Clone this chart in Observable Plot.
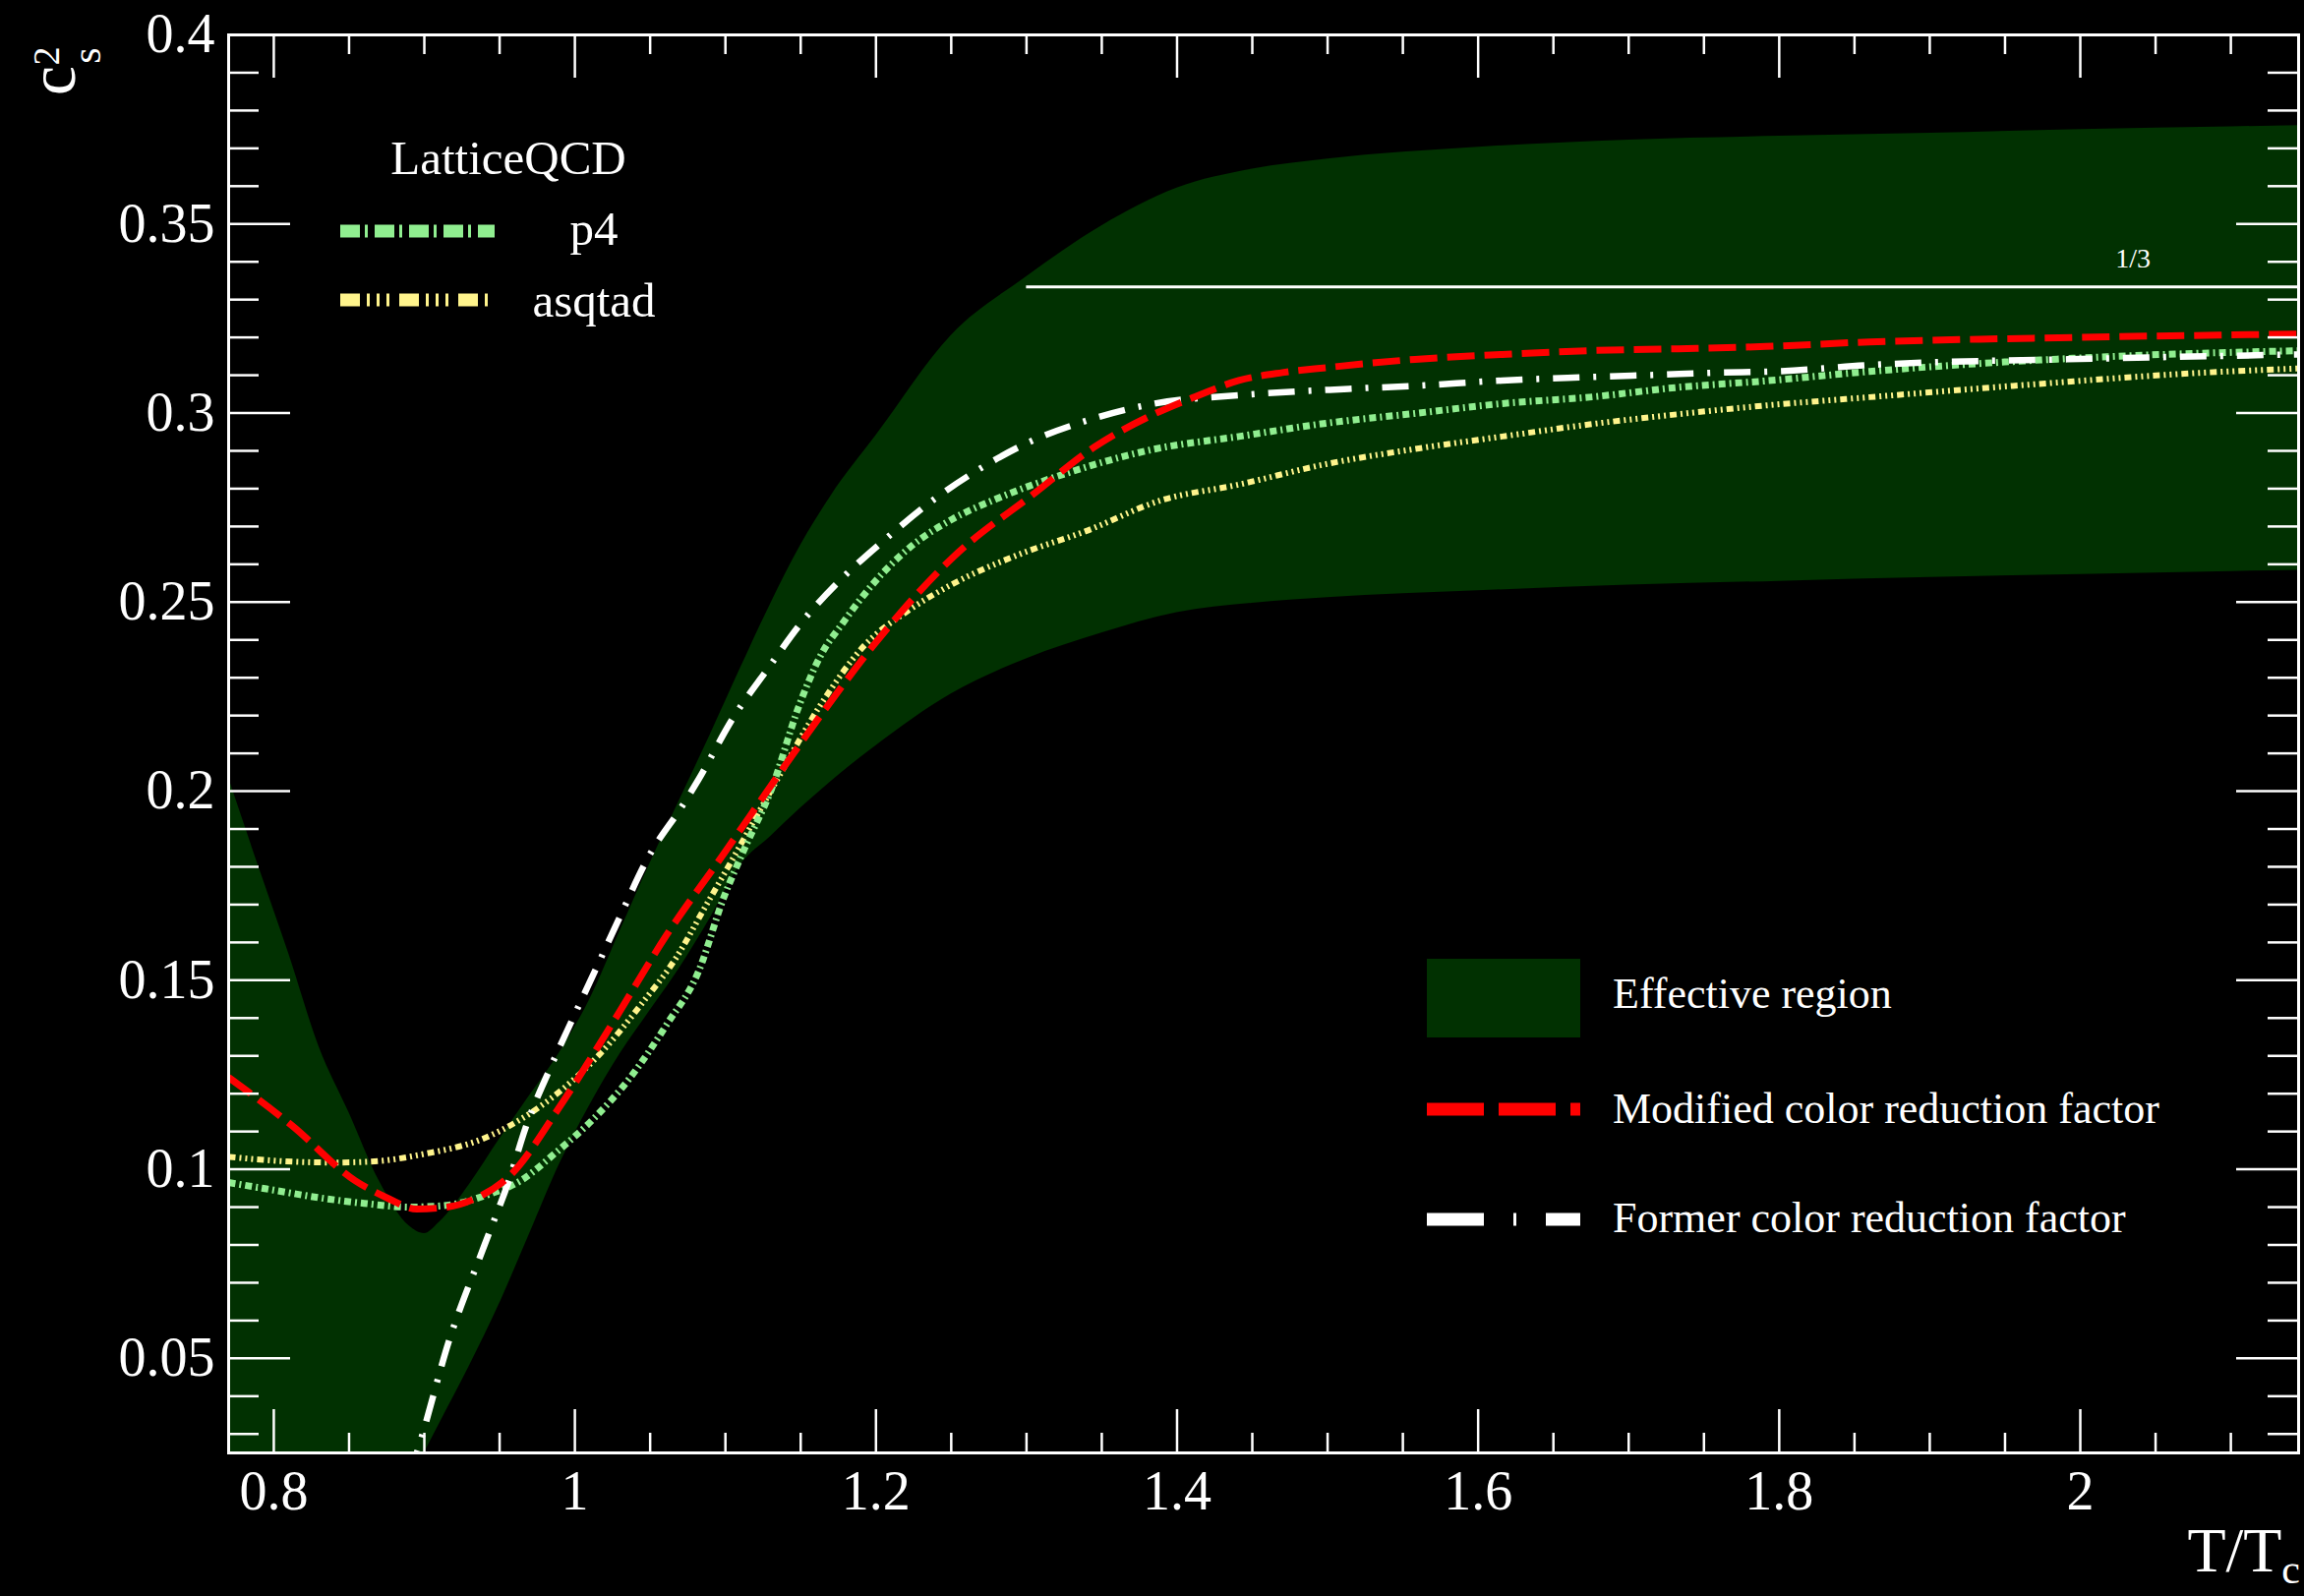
<!DOCTYPE html>
<html>
<head>
<meta charset="utf-8">
<script src="https://cdn.jsdelivr.net/npm/d3@7"></script>
<script src="https://cdn.jsdelivr.net/npm/@observablehq/plot@0.6"></script>
<style>
html, body { margin: 0; padding: 0; background: #000; overflow: hidden; }
#chart svg { display: block; }
</style>
</head>
<body>
<div id="chart"></div>
<script>
// ---------------- data ----------------
const xDomain = [0.77, 2.145];
const yDomain = [0.025, 0.4];

const xMajorTicks = [0.8, 1, 1.2, 1.4, 1.6, 1.8, 2];
const yMajorTicks = [0.05, 0.1, 0.15, 0.2, 0.25, 0.3, 0.35, 0.4];

// Effective region (band)
const bandX     = [0.77, 0.79, 0.81, 0.83, 0.85, 0.87, 0.89, 0.90, 0.91, 0.93, 0.95, 0.97, 0.99, 1.01, 1.03, 1.05, 1.07, 1.09, 1.11, 1.13, 1.15, 1.17, 1.20, 1.25, 1.30, 1.35, 1.40, 1.45, 1.50, 1.60, 1.70, 1.80, 1.90, 2.00, 2.10, 2.145];
const bandUpper = [0.2035, 0.180, 0.157, 0.1325, 0.115, 0.097, 0.085, 0.083, 0.086, 0.096, 0.108, 0.1195, 0.131, 0.145, 0.163, 0.181, 0.198, 0.215, 0.2325, 0.2495, 0.265, 0.278, 0.294, 0.3205, 0.336, 0.3495, 0.3595, 0.3645, 0.3672, 0.3703, 0.3722, 0.3732, 0.3740, 0.3750, 0.3757, 0.3760];
const bandLower = [-0.08, -0.06, -0.045, -0.03, -0.015, 0.001, 0.017, 0.025, 0.0327, 0.048, 0.0645, 0.083, 0.1015, 0.117, 0.1305, 0.142, 0.1535, 0.1665, 0.1805, 0.188, 0.1955, 0.2025, 0.212, 0.2257, 0.235, 0.2418, 0.2472, 0.2497, 0.2512, 0.2530, 0.2545, 0.2555, 0.2565, 0.2573, 0.2581, 0.2584];

// Modified color reduction factor (red)
const modX = [0.770, 0.812, 0.854, 0.875, 0.895, 0.915, 0.935, 0.957, 0.989, 1.024, 1.061, 1.099, 1.134, 1.165, 1.198, 1.251, 1.306, 1.345, 1.383, 1.412, 1.441, 1.470, 1.499, 1.558, 1.616, 1.674, 1.733, 1.791, 1.860, 1.969, 2.145];
const modY = [0.1243, 0.1116, 0.097, 0.0925, 0.0895, 0.0900, 0.0925, 0.0984, 0.116, 0.138, 0.162, 0.1835, 0.2036, 0.221, 0.2384, 0.2618, 0.279, 0.291, 0.2994, 0.3043, 0.3086, 0.3107, 0.3120, 0.3142, 0.3155, 0.3165, 0.3170, 0.3176, 0.3188, 0.3198, 0.3209];

// Former color reduction factor (white)
const formX = [0.890, 0.895, 0.917, 0.940, 0.957, 0.967, 0.984, 0.999, 1.014, 1.029, 1.049, 1.072, 1.082, 1.105, 1.128, 1.152, 1.178, 1.207, 1.239, 1.270, 1.300, 1.340, 1.385, 1.441, 1.514, 1.558, 1.616, 1.674, 1.718, 1.762, 1.797, 1.860, 2.012, 2.145];
const formY = [0.019, 0.025, 0.0554, 0.080, 0.098, 0.1107, 0.1271, 0.1402, 0.153, 0.166, 0.1827, 0.1965, 0.203, 0.2193, 0.2323, 0.2453, 0.2565, 0.2669, 0.2773, 0.2855, 0.292, 0.298, 0.3025, 0.3047, 0.3064, 0.3072, 0.3086, 0.3095, 0.3101, 0.3107, 0.3110, 0.3127, 0.3144, 0.3155];

// Lattice QCD p4 (light green)
const p4X = [0.770, 0.800, 0.830, 0.860, 0.890, 0.915, 0.940, 0.964, 0.987, 1.012, 1.037, 1.061, 1.082, 1.099, 1.112, 1.131, 1.149, 1.163, 1.178, 1.198, 1.222, 1.251, 1.280, 1.330, 1.383, 1.441, 1.499, 1.558, 1.616, 1.674, 1.733, 1.791, 1.860, 2.012, 2.145];
const p4Y = [0.0965, 0.0945, 0.0925, 0.0910, 0.0900, 0.0905, 0.0930, 0.0970, 0.1043, 0.1132, 0.1244, 0.1383, 0.1522, 0.1720, 0.1842, 0.2010, 0.2227, 0.2357, 0.2445, 0.2548, 0.2643, 0.2720, 0.2773, 0.2845, 0.2903, 0.2938, 0.2973, 0.2999, 0.3025, 0.3042, 0.3068, 0.3085, 0.3110, 0.3148, 0.3165];

// Lattice QCD asqtad (pale yellow)
const asqX = [0.770, 0.814, 0.840, 0.867, 0.899, 0.939, 0.961, 0.9915, 1.019, 1.044, 1.067, 1.087, 1.104, 1.119, 1.134, 1.163, 1.192, 1.222, 1.251, 1.295, 1.339, 1.390, 1.440, 1.499, 1.558, 1.616, 1.674, 1.733, 1.791, 1.860, 1.969, 2.078, 2.145];
const asqY = [0.1033, 0.1020, 0.1018, 0.1021, 0.1040, 0.1081, 0.1125, 0.1211, 0.1315, 0.1436, 0.1558, 0.1697, 0.1815, 0.1922, 0.2028, 0.2227, 0.2384, 0.2479, 0.2548, 0.2626, 0.2687, 0.2770, 0.2810, 0.2865, 0.2905, 0.2938, 0.2970, 0.2997, 0.3020, 0.3042, 0.3076, 0.3106, 0.3118];

const oneThird = 1 / 3;
const oneThirdStart = 1.3;
const oneThirdLabelX = 2.035;

// ---------------- layout / style ----------------
const W = 2343, H = 1623;
const mL = 232, mT = 35, mR = 6, mB = 146;
const plotW = W - mL - mR, plotH = H - mT - mB;
const serif = "'Liberation Serif', 'Times New Roman', 'DejaVu Serif', serif";

const bandColor = "#013101";
const redColor = "#ff0000";
const whiteColor = "#ffffff";
const p4Color = "#90ee90";
const asqColor = "#fff48c";

const xMinorTicks = d3.range(0.8, 2.1001, 0.05).map(v => +v.toFixed(2)).filter(v => !xMajorTicks.some(m => Math.abs(m - v) < 1e-6));
const yMinorTicks = d3.range(0.03, 0.4001, 0.01).map(v => +v.toFixed(2)).filter(v => !yMajorTicks.some(m => Math.abs(m - v) < 1e-6));

const band = bandX.map((x, i) => ({x, lo: bandLower[i], hi: bandUpper[i]}));
const zipXY = (xs, ys) => xs.map((x, i) => ({x, y: ys[i]}));
const modified = zipXY(modX, modY);
const former = zipXY(formX, formY);
const p4 = zipXY(p4X, p4Y);
const asqtad = zipXY(asqX, asqY);

const lineOpts = (stroke, dash, w) => ({x: "x", y: "y", stroke, strokeWidth: w, strokeDasharray: dash, strokeLinecap: "butt", strokeLinejoin: "round", curve: "monotone-x", clip: true});

const tickStroke = {stroke: "#fff", strokeWidth: 2.5};

const chart = Plot.plot({
  width: W, height: H,
  marginLeft: mL, marginTop: mT, marginRight: mR, marginBottom: mB,
  style: {background: "#000", color: "#fff", fontFamily: serif, fontSize: "56px"},
  x: {domain: xDomain, axis: null},
  y: {domain: yDomain, axis: null},
  marks: [
    Plot.areaY(band, {x: "x", y1: "lo", y2: "hi", fill: bandColor, curve: "monotone-x", clip: true}),
    Plot.ruleY([oneThird], {y: d => d, x1: oneThirdStart, x2: xDomain[1], stroke: "#fff", strokeWidth: 3}),
    Plot.text([oneThird], {x: () => oneThirdLabelX, y: d => d, dy: -29, text: () => "1/3", fontSize: 28, fill: "#fff"}),
    Plot.line(asqtad, lineOpts(asqColor, "7,4,2,4,2,4,2,4", 6)),
    Plot.line(p4, lineOpts(p4Color, "7,4,2,4", 7)),
    Plot.line(former, lineOpts(whiteColor, "27,14,3,14", 6.5)),
    Plot.line(modified, lineOpts(redColor, "28,10", 7)),
    // ticks (inside, all four sides)
    Plot.ruleX(xMajorTicks, {x: d => d, insetTop: plotH - 44, ...tickStroke}),
    Plot.ruleX(xMinorTicks, {x: d => d, insetTop: plotH - 20, ...tickStroke}),
    Plot.ruleX(xMajorTicks, {x: d => d, insetBottom: plotH - 44, ...tickStroke}),
    Plot.ruleX(xMinorTicks, {x: d => d, insetBottom: plotH - 20, ...tickStroke}),
    Plot.ruleY(yMajorTicks, {y: d => d, insetRight: plotW - 63, ...tickStroke}),
    Plot.ruleY(yMinorTicks, {y: d => d, insetRight: plotW - 31, ...tickStroke}),
    Plot.ruleY(yMajorTicks, {y: d => d, insetLeft: plotW - 63, ...tickStroke}),
    Plot.ruleY(yMinorTicks, {y: d => d, insetLeft: plotW - 31, ...tickStroke}),
    Plot.frame({stroke: "#fff", strokeWidth: 3}),
    Plot.axisX(xMajorTicks, {anchor: "bottom", tickSize: 0, tickPadding: 18, tickFormat: d => String(d), fontSize: 56, label: null}),
    Plot.axisY(yMajorTicks, {anchor: "left", tickSize: 0, tickPadding: 14, tickFormat: d => String(d), fontSize: 56, label: null})
  ]
});

document.getElementById("chart").appendChild(chart);

// ---------------- titles & legends ----------------
const svg = d3.select(chart);

// y-axis title c_s^2 (rotated)
const yt = svg.append("text")
  .attr("transform", "translate(76,97) rotate(-90)")
  .attr("text-anchor", "start")
  .attr("fill", "#fff").attr("font-family", serif).attr("font-size", 68);
yt.append("tspan").text("c");
yt.append("tspan").attr("font-size", 42).attr("dx", 2).attr("dy", 26).text("s");
yt.append("tspan").attr("font-size", 38).attr("dx", -18).attr("dy", -42).text("2");

// x-axis title T/T_c
const xt = svg.append("text")
  .attr("x", 2339).attr("y", 1598).attr("text-anchor", "end")
  .attr("fill", "#fff").attr("font-family", serif).attr("font-size", 64);
xt.append("tspan").text("T/T");
xt.append("tspan").attr("font-size", 42).attr("dy", 12).text("c");

// Lattice QCD legend (top-left)
const lg1 = svg.append("g").attr("font-family", serif).attr("fill", "#fff");
lg1.append("text").attr("x", 517).attr("y", 177).attr("text-anchor", "middle").attr("font-size", 49).text("LatticeQCD");
lg1.append("line").attr("x1", 346).attr("x2", 503).attr("y1", 235).attr("y2", 235)
  .attr("stroke", p4Color).attr("stroke-width", 13).attr("stroke-dasharray", "20,5,3,7");
lg1.append("text").attr("x", 604).attr("y", 249).attr("text-anchor", "middle").attr("font-size", 49).text("p4");
lg1.append("line").attr("x1", 346).attr("x2", 502).attr("y1", 305).attr("y2", 305)
  .attr("stroke", asqColor).attr("stroke-width", 13).attr("stroke-dasharray", "20,7,3,7,3,7,3,10");
lg1.append("text").attr("x", 604).attr("y", 322).attr("text-anchor", "middle").attr("font-size", 49).text("asqtad");

// Model legend (lower-right)
const lg2 = svg.append("g").attr("font-family", serif).attr("fill", "#fff").attr("font-size", 44).attr("text-anchor", "start");
lg2.append("rect").attr("x", 1451).attr("y", 975).attr("width", 156).attr("height", 80).attr("fill", bandColor);
lg2.append("text").attr("x", 1640).attr("y", 1025).attr("text-anchor", "start").text("Effective region");
lg2.append("line").attr("x1", 1451).attr("x2", 1607).attr("y1", 1128).attr("y2", 1128)
  .attr("stroke", redColor).attr("stroke-width", 13).attr("stroke-dasharray", "58,15");
lg2.append("text").attr("x", 1640).attr("y", 1142).attr("text-anchor", "start").text("Modified color reduction factor");
lg2.append("line").attr("x1", 1451).attr("x2", 1607).attr("y1", 1240).attr("y2", 1240)
  .attr("stroke", whiteColor).attr("stroke-width", 13).attr("stroke-dasharray", "58,30,3,30");
lg2.append("text").attr("x", 1640).attr("y", 1253).attr("text-anchor", "start").text("Former color reduction factor");
</script>
</body>
</html>
